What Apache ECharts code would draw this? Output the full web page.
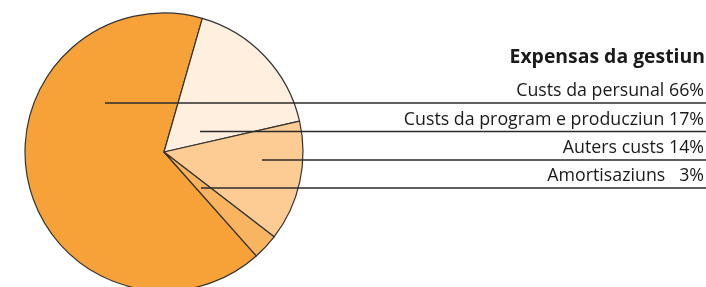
<!DOCTYPE html>
<html>
<head>
<meta charset="utf-8">
<script src="https://cdn.jsdelivr.net/npm/echarts@6/dist/echarts.min.js"></script>
<style>
  html, body { margin: 0; padding: 0; background: #fff; }
  #chart { width: 706px; height: 287px; }
</style>
</head>
<body>
<div id="chart"></div>
<script>
// Data
const titleText = 'Expensas da gestiun';
const categories = ['Custs da persunal', 'Custs da program e producziun', 'Auters custs', 'Amortisaziuns'];
const shares = [66, 17, 14, 3];
const labelSuffix = ['66%', '17%', '14%', '  3%'];
const colors = ['#F7A239', '#FFEFDF', '#FDCB94', '#F9B462'];

// leader line layout (y of the rule, x where it starts inside the pie)
const ruleY = [103, 131.5, 160, 188];
const ruleStartX = [105, 200, 262, 201];
const RIGHT = 704;

const chart = echarts.init(document.getElementById('chart'), null, { renderer: 'canvas' });

const pieBase = {
  type: 'pie',
  center: [164, 152],
  radius: [0, 139],
  startAngle: 311.6,
  clockwise: true,
  avoidLabelOverlap: false,
  silent: true,
  emphasis: { disabled: true }
};

chart.setOption({
  animation: false,
  title: {
    text: titleText,
    right: 1,
    top: 48,
    padding: 0,
    textStyle: { fontFamily: 'Open Sans', fontWeight: 'bold', fontSize: 19.4, color: '#1a1a1a' }
  },
  series: [
    // filled sectors
    Object.assign({}, pieBase, {
      z: 2,
      itemStyle: { borderColor: '#333', borderWidth: 1.2 },
      label: { show: false },
      labelLine: { show: false },
      data: categories.map((name, i) => ({
        name,
        value: shares[i],
        itemStyle: { color: colors[i] }
      }))
    }),
    // transparent copy drawn above, carries the labels and the rules
    Object.assign({}, pieBase, {
      z: 4,
      itemStyle: { color: 'rgba(0,0,0,0)', borderWidth: 0 },
      label: {
        show: true,
        position: 'outside',
        fontFamily: 'Open Sans',
        fontSize: 17.8,
        color: '#1a1a1a',
        formatter: p => p.name + ' ' + labelSuffix[p.dataIndex]
      },
      labelLine: {
        show: true,
        lineStyle: { color: '#2b2b2b', width: 1.4 }
      },
      labelLayout: params => {
        const i = params.dataIndex;
        return {
          x: RIGHT,
          y: ruleY[i] - 3,
          align: 'right',
          verticalAlign: 'bottom',
          labelLinePoints: [[ruleStartX[i], ruleY[i]], [706, ruleY[i]], [706, ruleY[i]]]
        };
      },
      data: categories.map((name, i) => ({ name, value: shares[i] }))
    })
  ]
});
</script>
</body>
</html>
